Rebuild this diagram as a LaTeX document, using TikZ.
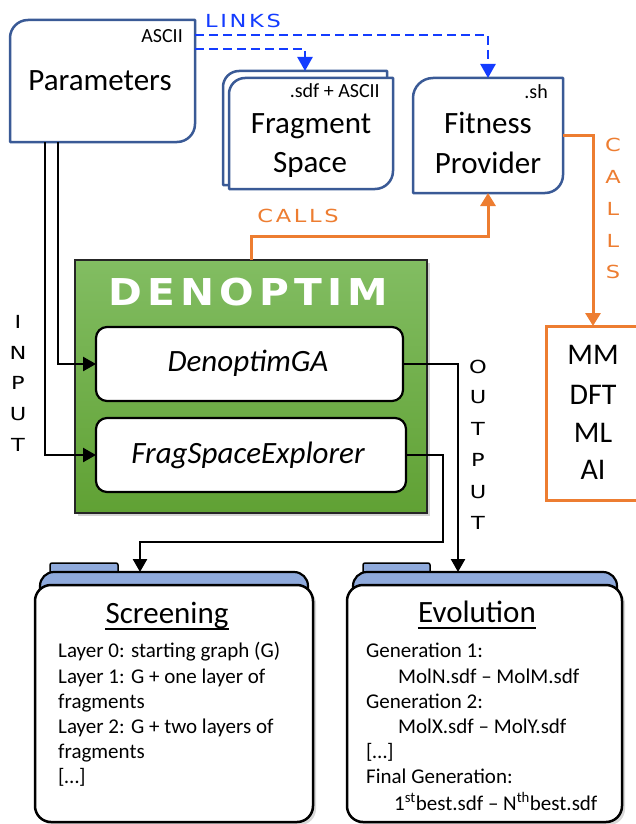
\documentclass[tikz,border=0pt]{standalone}
\usepackage{fontspec}
\setmainfont{Carlito}
\newfontfamily\cpfont{DejaVu Sans}[FakeStretch=1.25,LetterSpace=15]
\newfontfamily\cpone{DejaVu Sans}[FakeStretch=1.25]
\newfontfamily\cpbold{DejaVu Sans}[FakeStretch=1.1,LetterSpace=14]
\usetikzlibrary{arrows.meta,shadows,calc}
\definecolor{bxblue}{RGB}{58,90,150}
\definecolor{lkblue}{RGB}{20,60,255}
\definecolor{orng}{RGB}{237,125,49}
\definecolor{gtop}{RGB}{130,189,98}
\definecolor{gbot}{RGB}{96,161,52}
\definecolor{fblue}{RGB}{143,170,220}
\begin{document}
\begin{tikzpicture}[x=1pt,y=-1pt,
  area/.style 2 args={inner sep=0pt, outer sep=0pt, minimum width=#1, minimum height=#2},
  big/.style={font=\fontsize{31}{37}\selectfont, inner sep=0pt, anchor=base},
  bigit/.style={font=\fontsize{31}{37}\selectfont\itshape, inner sep=0pt, anchor=base},
  small/.style={font=\fontsize{20}{24}\selectfont, inner sep=0pt, anchor=base east},
  bodytxt/.style={font=\fontsize{21}{25}\selectfont, inner sep=0pt, anchor=base west},
  mmtxt/.style={font=\fontsize{30}{36}\selectfont, inner sep=0pt},
  capword/.style={font=\cpfont\fontsize{18}{20}\selectfont, inner sep=0pt},
  capletter/.style={font=\cpone\fontsize{18}{20}\selectfont, inner sep=0pt},
  bluebox/.style={draw=bxblue, line width=2.5pt, fill=white, line join=round},
  links/.style={draw=lkblue, line width=2.5pt, dash pattern=on 9pt off 5pt, -{Triangle[length=14pt,width=15pt]}},
  calls/.style={draw=orng, line width=3pt, -{Triangle[length=13pt,width=15pt]}},
  flow/.style={draw=black, line width=2.5pt, -{Triangle[length=13pt,width=14pt]}},
  modbox/.style={draw=black, line width=2.2pt, fill=white, rounded corners=11pt, inner sep=0pt, outer sep=0pt},
  tabst/.style={draw=black, line width=1.5pt, fill=fblue, rounded corners=2pt},
  bandst/.style={draw=black, line width=2.2pt, fill=fblue, rounded corners=14pt},
  bodyst/.style={draw=black, line width=2.5pt, fill=white, rounded corners=16pt,
     drop shadow={shadow xshift=3pt, shadow yshift=-3pt, opacity=0.3}},
]
\useasboundingbox (0,0) rectangle (636,824);

% ---------- Parameters ----------
\draw[bluebox] (10,142) -- (10,38) arc[start angle=180,end angle=270,radius=18] -- (195,20) -- (195,124) arc[start angle=0,end angle=90,radius=18] -- cycle;
\node[area={185pt}{122pt}] (params) at (102.5,81) {};
\node[big] (partxt) at (100,91) {Parameters};
\node[small] (parasc) at (183,43) {ASCII};

% ---------- Fragment Space ----------
\draw[bluebox] (223,185) -- (223,87) arc[start angle=180,end angle=270,radius=16] -- (387,71) -- (387,167) arc[start angle=0,end angle=90,radius=18] -- cycle;
\draw[bluebox] (229,189) -- (229,94) arc[start angle=180,end angle=270,radius=16] -- (393,78) -- (393,171) arc[start angle=0,end angle=90,radius=18] -- cycle;
\node[area={164pt}{114pt}] (fragback) at (305,128) {};
\node[area={164pt}{111pt}] (fragfront) at (311,133.5) {};
\node[small] (fragsm) at (380,98) {.sdf + ASCII};
\node[big] (fragt1) at (311,133) {Fragment};
\node[big] (fragt2) at (310,172) {Space};

% ---------- Fitness Provider ----------
\draw[bluebox] (413,193) -- (413,98) arc[start angle=180,end angle=270,radius=20] -- (563,78) -- (563,175) arc[start angle=0,end angle=90,radius=18] -- cycle;
\node[area={150pt}{115pt}] (fitness) at (488,135.5) {};
\node[small] (fitsm) at (548,99) {.sh};
\node[big] (fitt1) at (488,133) {Fitness};
\node[big] (fitt2) at (488,173) {Provider};

% ---------- MM box ----------
\node[draw=orng, line width=3pt, area={94pt}{174pt}] (mm) at (593,413) {};
\node[mmtxt] (mm1) at (593,355) {MM};
\node[mmtxt] (mm2) at (593,395) {DFT};
\node[mmtxt] (mm3) at (593,433) {ML};
\node[mmtxt] (mm4) at (593,470) {AI};

% ---------- DENOPTIM ----------
\node[draw=black!85, line width=2pt, top color=gtop, bottom color=gbot, area={352pt}{253pt},
      drop shadow={shadow xshift=3pt, shadow yshift=-3pt, opacity=0.35}] (denoptim) at (251,386.5) {};
\node[inner sep=0pt, text=white, font=\cpbold\bfseries\fontsize{37}{40}\selectfont] (denlbl) at (248,292) {DENOPTIM};
\node[modbox, area={307pt}{74pt}] (ga) at (249.5,364) {};
\node[modbox, area={310pt}{74pt}] (fse) at (251,455) {};
\node[bigit] (gat) at (248,371) {DenoptimGA};
\node[bigit] (fset) at (248,463) {FragSpaceExplorer};

% ---------- Folders ----------
\node[area={278pt}{250pt}] (scr) at (174,697) {};
\node[area={275pt}{250pt}] (evo) at (484.5,697) {};
\draw[tabst] (50,574) -- (50,563) -- (118,563) -- (118,574);
\draw[bandst] (40,605) -- (40,572) -- (308,572) -- (308,605);
\draw[bodyst] (35,585) rectangle (313,822);
\draw[tabst] (363,574) -- (363,563) -- (430,563) -- (430,574);
\draw[bandst] (353,605) -- (353,572) -- (617,572) -- (617,605);
\draw[bodyst] (347,585) rectangle (622,822);

\node[big] (scrt) at (167,623) {Screening};
\draw[line width=1.6pt] ([yshift=-6pt]scrt.base west) -- ([yshift=-6pt]scrt.base east);
\node[bodytxt] (s1) at (58,657) {Layer 0: starting graph (G)};
\node[bodytxt] (s2) at (58,683) {Layer 1: G + one layer of};
\node[bodytxt] (s3) at (58,708) {fragments};
\node[bodytxt] (s4) at (58,733) {Layer 2: G + two layers of};
\node[bodytxt] (s5) at (58,758) {fragments};
\node[bodytxt] (s6) at (58,783) {[…]};

\node[big] (evot) at (477,622) {Evolution};
\draw[line width=1.6pt] ([yshift=-6pt]evot.base west) -- ([yshift=-6pt]evot.base east);
\node[bodytxt] (e1) at (366,657) {Generation 1:};
\node[bodytxt] (e2) at (398,683) {MolN.sdf – MolM.sdf};
\node[bodytxt] (e3) at (366,708) {Generation 2:};
\node[bodytxt] (e4) at (398,733) {MolX.sdf – MolY.sdf};
\node[bodytxt] (e5) at (366,758) {[…]};
\node[bodytxt] (e6) at (366,783) {Final Generation:};
\node[bodytxt] (e7) at (394,810) {1\textsuperscript{st}best.sdf – N\textsuperscript{th}best.sdf};

% ---------- Connectors ----------
\draw[links] (params.east |- 0,35) -| (fitness.north);
\draw[links] (params.east |- 0,49) -| (fragback.north);
\node[capword, text=lkblue] (linkslbl) at (243,21) {LINKS};

\draw[calls] (fitness.east) -| (mm.north);
\draw[calls] (denoptim.north) -- (denoptim.north |- 0,236) -| (fitness.south);
\node[capword, text=orng] (callsh) at (298,216) {CALLS};
\node[capletter, text=orng] (cv1) at (613,145) {C};
\node[capletter, text=orng] (cv2) at (613,177) {A};
\node[capletter, text=orng] (cv3) at (613,209) {L};
\node[capletter, text=orng] (cv4) at (613,241) {L};
\node[capletter, text=orng] (cv5) at (613,272) {S};

\draw[flow] (58,0 |- params.south) |- (ga.west);
\draw[flow] (45,0 |- params.south) |- (fse.west);
\node[capletter] (in1) at (18,322) {I};
\node[capletter] (in2) at (18,353) {N};
\node[capletter] (in3) at (18,383) {P};
\node[capletter] (in4) at (18,414) {U};
\node[capletter] (in5) at (18,445) {T};

\draw[flow] (ga.east) -| (458,0 |- evo.north);
\draw[flow] (fse.east) -| (443,542) -| (140,0 |- scr.north);
\node[capletter] (out1) at (478,367) {O};
\node[capletter] (out2) at (478,397) {U};
\node[capletter] (out3) at (478,429) {T};
\node[capletter] (out4) at (478,460) {P};
\node[capletter] (out5) at (478,492) {U};
\node[capletter] (out6) at (478,523) {T};
\end{tikzpicture}
\end{document}
